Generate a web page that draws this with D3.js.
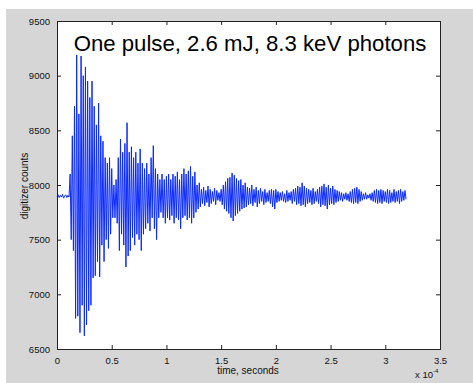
<!DOCTYPE html>
<html><head><meta charset="utf-8">
<script src="https://cdn.jsdelivr.net/npm/d3@7"></script>
<style>body{margin:0;background:#fff}svg{display:block}text{font-family:"Liberation Sans",Arial,Helvetica,sans-serif}</style>
</head><body><svg id="c" width="473" height="383"></svg>
<script>
// ---- data (digitizer counts, one sample every 0.01 x 1e-4 s) ----
const sampleStep = 0.01;
const preTrigger = [7895,7910,7885,7905,7890,7915,7880,7900,7910,7885,7905,7890];
const mainBurst = [8100,7500,8450,7400,8720,6780,9190,6800,8650,6650,9180,6900,9000,6620,9080,6720,8950,6850,8800,6900,8950,7150,8720,7170,8550,7300,8750,7160,8450,7450,8400,7300,8250,7500,8200,7420,8250,7550,8150,7700,8000,7700,8050,7650];
const secondBurst = [8250,7400,8420,7550,8300,7450,8380,7250,8570,7350,8300,7400,8350,7520,8250,7450,8300,7550,8200,7500,8330,7400,8200,7550,8150,7600,8200,7650,8100,7580,8250,7700,8360,7600,8150,7500,8100,7700,8050,7750,8100,7700,8050,7650];
const decayTail = [8080,7700,8100,7680,8050,7720,8100,7650,8080,7700,8120,7680,8050,7600,8100,7700,8150,7720,8100,7680,8130,7700,8170,7650,8080,7700,8120,7750,8000,7780,8020,7800,7960,7830,7980,7810,7950,7840,7990,7800,7960,7830,7940,7850,7970,7820,7950,7860,7930,7850,7960,7820];
const thirdBurst = [8000,7780,8030,7760,8060,7740,8070,7700,8110,7670,8090,7720,8060,7740,8040,7760,8050,7780,8000,7790,8020,7800,7980,7820];
const noiseFloor = [7970,7830,8000,7810,7960,7840,7980,7800,7950,7830,7970,7850,7940,7820,7960,7840,7930,7850,7950,7830,7960,7800,7950,7780,7960,7840,7940,7850,7930,7860,7940,7850,7920,7840,7950,7850,7930,7860,7940,7830,7960,7850,7970,7820,7990,7830,7980,7810,8020,7820,7990,7800,7970,7830,7960,7840,7950,7820,7970,7830,7940,7850,7960,7830,7980,7800,7990,7820,8010,7810,7980,7780,8000,7820,7970,7830,7990,7820,7960,7840,7950,7850,7940,7860,7930,7850,7920,7870,7930,7860,7920,7850,7940,7840,7960,7830,7970,7840,7980,7830,7960,7850,7940,7860,7920,7870,7930,7870,7910,7880,7920,7860,7930,7850,7950,7840,7960,7830,7950,7840,7960,7830,7950,7850,7940,7840,7960,7830,7950,7840,7930,7850,7960,7840,7940,7850,7950,7830,7960,7850,7940,7860,7950,7870];
const xTicks = [0,0.5,1,1.5,2,2.5,3,3.5];
const yTicks = [6500,7000,7500,8000,8500,9000,9500];
const titleText = "One pulse, 2.6 mJ, 8.3 keV photons";
const xLabel = "time, seconds";
const yLabel = "digitizer counts";

const counts = [].concat(preTrigger, mainBurst, secondBurst, decayTail, thirdBurst, noiseFloor);
const series = counts.map((v,i)=>({t:i*sampleStep, v}));

const svg = d3.select("#c");
svg.append("rect").attr("x",6).attr("y",9).attr("width",467).attr("height",374).attr("fill","#d6d6d6");

const L=57, R=440, T=21, B=349;
const x = d3.scaleLinear().domain([0,3.5]).range([L,R]);
const y = d3.scaleLinear().domain([6500,9500]).range([B,T]);

svg.append("rect").attr("x",L).attr("y",T).attr("width",R-L).attr("height",B-T).attr("fill","#fff");

const line = d3.line().x(d=>x(d.t)).y(d=>y(d.v));
svg.append("path").datum(series).attr("d",line).attr("fill","none")
  .attr("stroke","#0a2aff").attr("stroke-width",1.0).attr("stroke-linejoin","miter");

// axes (MATLAB box with inward ticks)
const tl = 4;
const gx = svg.append("g").attr("transform",`translate(0,${B})`)
  .call(d3.axisBottom(x).tickValues(xTicks).tickSize(-tl).tickPadding(4+tl).tickFormat(d3.format("")));
const gxt = svg.append("g").attr("transform",`translate(0,${T})`)
  .call(d3.axisTop(x).tickValues(xTicks).tickSize(-tl).tickFormat(""));
const gy = svg.append("g").attr("transform",`translate(${L},0)`)
  .call(d3.axisLeft(y).tickValues(yTicks).tickSize(-tl).tickPadding(3+tl).tickFormat(d3.format("")));
const gyr = svg.append("g").attr("transform",`translate(${R},0)`)
  .call(d3.axisRight(y).tickValues(yTicks).tickSize(-tl).tickFormat(""));
[gx,gxt,gy,gyr].forEach(g=>{
  g.select(".domain").attr("stroke","#222");
  g.selectAll(".tick line").attr("stroke","#222");
  g.selectAll("text").attr("font-size",9.5).attr("fill","#111").attr("font-family","Liberation Sans, Arial, sans-serif");
});

svg.append("text").attr("x",250).attr("y",51).attr("text-anchor","middle")
  .attr("font-size",22.2).attr("fill","#000").text(titleText);
svg.append("text").attr("x",248).attr("y",374).attr("text-anchor","middle")
  .attr("font-size",10).attr("fill","#111").text(xLabel);
svg.append("text").attr("transform","translate(28,186) rotate(-90)").attr("text-anchor","middle")
  .attr("font-size",10).attr("fill","#111").text(yLabel);
const ex = svg.append("text").attr("x",415).attr("y",378).attr("font-size",9.5).attr("fill","#111");
ex.append("tspan").text("x 10");
ex.append("tspan").attr("dy",-5).attr("font-size",6).text("-4");
</script></body></html>
